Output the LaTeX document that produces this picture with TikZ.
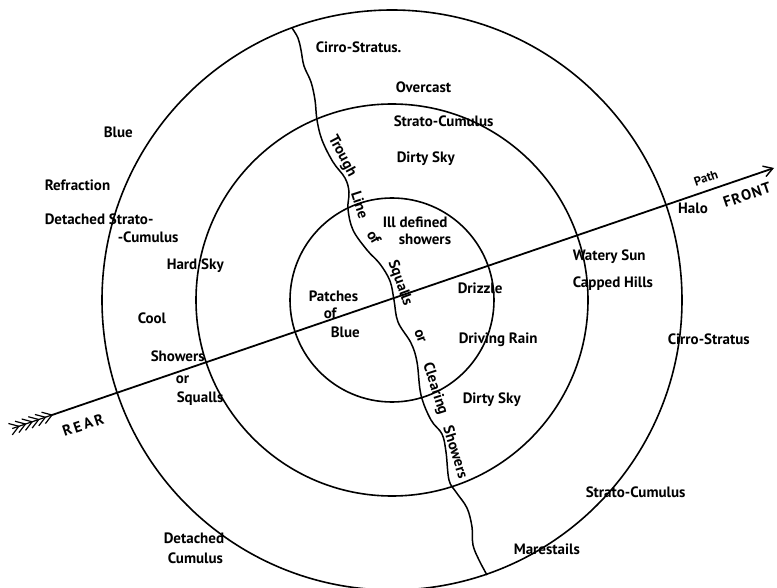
\documentclass[tikz,border=0pt]{standalone}
\usepackage{fontspec}
\setmainfont{PT Sans}
\usetikzlibrary{arrows.meta}
\begin{document}
\begin{tikzpicture}[x=1pt,y=-1pt,line width=1.5pt,
  lbl/.style={font=\bfseries\fontsize{15}{17}\selectfont,inner sep=0pt,anchor=west},
  wrd/.style={font=\bfseries\fontsize{15}{17}\selectfont,inner sep=0pt},
  ring/.style={line width=1.6pt}]
\useasboundingbox (0,0) rectangle (777,588);
\fill[white] (0,0) rectangle (777,588);
\coordinate (C) at (392,300);
\draw[ring] (C) circle[radius=102];
\draw[ring] (C) circle[radius=196];
\draw[ring] (C) circle[radius=290];
% path arrow
\coordinate (tail) at (52,415);
\coordinate (head) at (774,168);
\draw[line width=1.8pt,-{Straight Barb[length=9pt,width=11pt,line width=1.4pt]}] (tail) -- (head);
\begin{scope}[shift={(tail)},rotate=18.8,line width=1.2pt]
  \draw (-42,0) -- (0,0);
  \foreach \k in {0,-7,-14,-21,-28,-35}{
    \draw (\k-9,-6) -- (\k,0) -- (\k-9,6);
  }
\end{scope}
% trough line
\draw[line width=1.5pt] plot[smooth,tension=0.6] coordinates {
 (292,28) (298,38) (301,50) (304,66) (311,82) (315,100) (317,120) (322,140)
 (333,162) (345,178) (349,192) (348,209) (353,230) (367,250) (380,264)
 (390,281) (394,300) (398,322) (411,343) (417,362) (421,395) (431,420)
 (442,434) (446,452) (449,480) (456,492) (467,508) (472,527) (473,545)
 (479,560) (487,575)};
% trough words
\node[wrd,rotate=-62] (tw1) at (342,156) {Trough};
\node[wrd,rotate=-72] (tw2) at (360,205) {Line};
\node[wrd,rotate=-60] (tw3) at (374,237) {of};
\node[wrd,rotate=-70] (tw4) at (400,283) {Squalls};
\node[wrd,rotate=-70] (tw5) at (420,336) {or};
\node[wrd,rotate=-72] (tw6) at (435,389) {Clearing};
\node[wrd,rotate=-73] (tw7) at (456,452) {Showers};
% arrow labels
\node[wrd,rotate=18.8] (rear) at (83,425) {R\,E\,A\,R};
\node[wrd,rotate=18.8,font=\bfseries\fontsize{12.5}{14}\selectfont] (path) at (706,178) {Path};
\node[wrd] (halo) at (693,208) {Halo};
\node[wrd,rotate=18.8] (front) at (747,195) {F\kern1pt R\kern1pt O\kern1pt N\kern1pt T};
% labels
\node[lbl] (l1) at (315,47) {Cirro-Stratus.};
\node[lbl] (l2) at (395,87) {Overcast};
\node[lbl] (l3) at (393,121) {Strato-Cumulus};
\node[lbl] (l4) at (396,159) {Dirty Sky};
\node[lbl] (l5) at (382,222) {Ill defined};
\node[lbl] (l6) at (398,239) {showers};
\node[lbl] (l7) at (457,288) {Drizzle};
\node[lbl] (l8) at (458,340) {Driving Rain};
\node[lbl] (l9) at (462,400) {Dirty Sky};
\node[lbl] (l10) at (308,296) {Patches};
\node[lbl] (l11) at (323,313) {of};
\node[lbl] (l12) at (330,332) {Blue};
\node[lbl] (l13) at (572,257) {Watery Sun};
\node[lbl] (l14) at (572,284) {Capped Hills};
\node[lbl] (l15) at (667,339) {Cirro-Stratus};
\node[lbl] (l16) at (585,492) {Strato-Cumulus};
\node[lbl] (l17) at (513,549) {Marestails};
\node[lbl] (l18) at (163,538) {Detached};
\node[lbl] (l19) at (167,558) {Cumulus};
\node[lbl] (l20) at (103,132) {Blue};
\node[lbl] (l21) at (44,185) {Refraction};
\node[lbl] (l22) at (44,219) {Detached Strato-};
\node[lbl] (l23) at (117,237) {-Cumulus};
\node[lbl] (l24) at (166,266) {Hard Sky};
\node[lbl] (l25) at (137,318) {Cool};
\node[lbl] (l26) at (150,356) {Showers};
\node[lbl] (l27) at (175,380) {or};
\node[lbl] (l28) at (176,399) {Squalls};
\end{tikzpicture}
\end{document}
